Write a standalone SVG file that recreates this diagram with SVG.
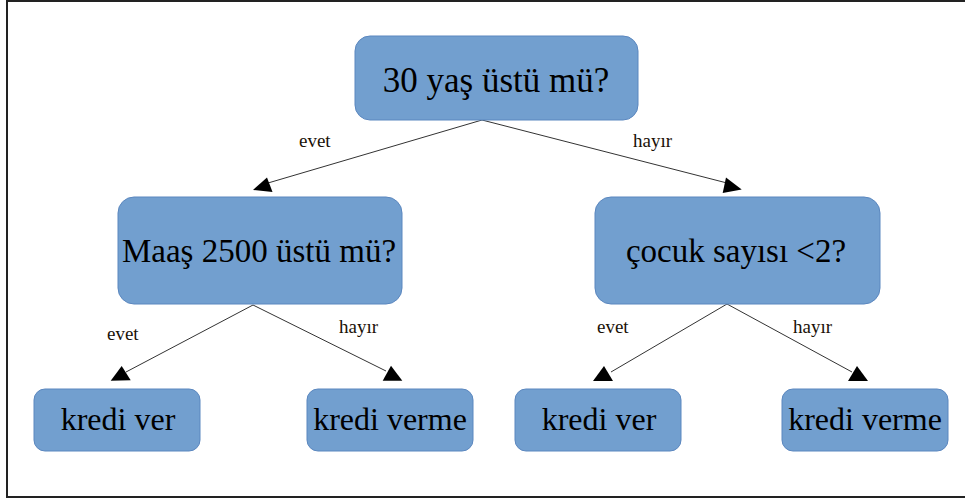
<svg xmlns="http://www.w3.org/2000/svg" width="965" height="499" viewBox="0 0 965 499">
  <style>
    .box { fill: #729fcf; stroke: #5b87bf; stroke-width: 1; }
    .t { font-family: 'Liberation Serif', 'Times New Roman', serif; fill: #000; text-anchor: middle; }
    .big { font-size: 35px; }
    .mid { font-size: 33px; }
    .leaf { font-size: 32px; }
    .lbl { font-family: 'Liberation Serif', 'Times New Roman', serif; font-size: 19px; fill: #1a1208; }
    .edge { stroke: #333; stroke-width: 1; fill: none; }
    .head { fill: #000; }
  </style>

  <rect x="0" y="0" width="965" height="499" fill="#fff"/>
  <!-- outer frame -->
  <rect x="7" y="1" width="962" height="496" fill="none" stroke="#222" stroke-width="2"/>

  <g id="connectors">
    <line class="edge" x1="482" y1="120" x2="268" y2="183"/>
    <polygon class="head" points="253,190 267,177.5 272.5,192"/>
    <line class="edge" x1="482" y1="120" x2="727" y2="183"/>
    <polygon class="head" points="741.7,189.5 726,177.5 722.7,193"/>

    <line class="edge" x1="253" y1="305" x2="126" y2="372"/>
    <polygon class="head" points="110.7,380.7 130.7,380.3 121.7,366"/>
    <line class="edge" x1="253" y1="305" x2="386" y2="371"/>
    <polygon class="head" points="382.7,380.7 402.3,380.7 391,365.7"/>

    <line class="edge" x1="727" y1="304" x2="611" y2="372"/>
    <polygon class="head" points="593,381 613,381 604,366"/>
    <line class="edge" x1="727" y1="304" x2="852" y2="372"/>
    <polygon class="head" points="848,381 868,381 857,366"/>

    <text class="lbl" x="299" y="147" font-family="Liberation Serif, serif">evet</text>
    <text class="lbl" x="633" y="147" font-family="Liberation Serif, serif">hayır</text>
    <text class="lbl" x="107" y="340" font-family="Liberation Serif, serif">evet</text>
    <text class="lbl" x="339" y="333" font-family="Liberation Serif, serif">hayır</text>
    <text class="lbl" x="597" y="333" font-family="Liberation Serif, serif">evet</text>
    <text class="lbl" x="793" y="333" font-family="Liberation Serif, serif">hayır</text>
  </g>

  <g id="root">
    <rect class="box" x="355" y="36" width="283" height="84" rx="15"/>
    <text class="t big" x="496" y="92" font-family="Liberation Serif, serif">30 yaş üstü mü?</text>
  </g>

  <g id="maas">
    <rect class="box" x="118" y="197" width="284" height="107" rx="16"/>
    <text class="t mid" x="259" y="262" font-family="Liberation Serif, serif">Maaş 2500 üstü mü?</text>
  </g>

  <g id="cocuk">
    <rect class="box" x="595" y="197" width="285" height="107" rx="16"/>
    <text class="t mid" x="736" y="262" font-family="Liberation Serif, serif">çocuk sayısı &lt;2?</text>
  </g>

  <g id="leaf1">
    <rect class="box" x="34" y="389" width="166" height="62" rx="11"/>
    <text class="t leaf" x="118" y="430" font-family="Liberation Serif, serif">kredi ver</text>
  </g>

  <g id="leaf2">
    <rect class="box" x="307" y="389" width="166" height="62" rx="11"/>
    <text class="t leaf" x="390" y="430" font-family="Liberation Serif, serif">kredi verme</text>
  </g>

  <g id="leaf3">
    <rect class="box" x="515" y="389" width="166" height="62" rx="11"/>
    <text class="t leaf" x="599" y="430" font-family="Liberation Serif, serif">kredi ver</text>
  </g>

  <g id="leaf4">
    <rect class="box" x="782" y="389" width="166" height="62" rx="11"/>
    <text class="t leaf" x="865" y="430" font-family="Liberation Serif, serif">kredi verme</text>
  </g>
</svg>
